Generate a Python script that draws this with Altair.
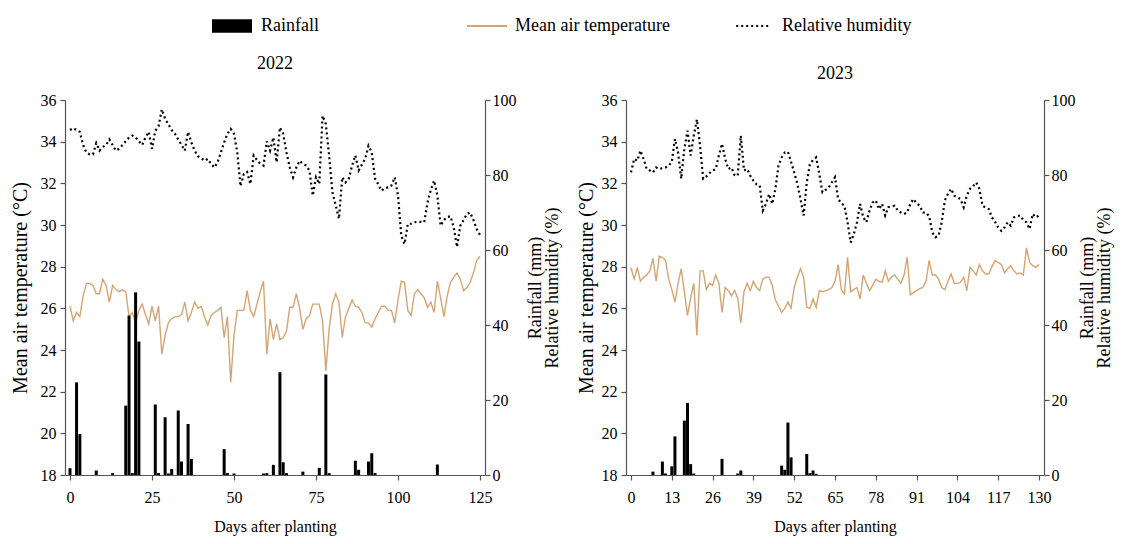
import altair as alt
import pandas as pd

# ---------------- 2022 ----------------
temp_2022 = [26.1, 25.4, 25.8, 25.6, 26.6, 27.2, 27.2, 27.1, 26.7, 26.7,
             27.4, 27.1, 26.3, 27.1, 26.9, 26.8, 26.9, 26.8, 25.6, 25.8,
             25.3, 25.9, 26.2, 25.7, 25.25, 26.1, 25.4, 26.1, 23.8, 24.7,
             25.3, 25.5, 25.6, 25.6, 25.7, 26.3, 25.4, 25.8, 26.3, 26.0,
             26.1, 25.6, 25.2, 25.65, 25.8, 25.9, 26.05, 24.6, 25.6, 22.45,
             24.7, 25.9, 25.9, 25.9, 26.85, 25.9, 25.6, 26.2, 26.8, 27.3,
             23.8, 25.5, 24.5, 25.25, 24.5, 24.6, 24.9, 26.05, 26.05, 26.7,
             26.0, 25.0, 25.5, 25.65, 26.2, 26.2, 26.2, 25.4, 23.0, 25.0,
             26.2, 26.7, 26.3, 24.6, 25.6, 26.0, 26.4, 26.1, 26.05, 25.8,
             25.3, 25.3, 25.1, 25.5, 25.8, 26.1, 26.1, 25.9, 25.9, 25.3,
             26.4, 27.3, 27.25, 25.9, 25.65, 26.7, 26.9, 26.7, 26.5, 26.05,
             26.3, 25.8, 27.3, 26.5, 25.6, 26.6, 27.25, 27.5, 27.7, 27.4,
             26.85, 27.0, 27.25, 27.7, 28.3, 28.5]
hum_2022 = [92, 92.5, 92, 91.5, 88, 86, 85.5, 85.5, 88.5, 86.5,
            87.5, 88, 89.5, 88, 86.5, 87, 88, 89, 90, 90.5,
            90, 89, 88, 90, 91.5, 87, 91.8, 93, 97.5, 95,
            93.5, 92, 91, 89.5, 88, 86.5, 91.5, 88.7, 86.5, 85,
            84.5, 83.8, 84.3, 83, 82, 83.4, 86, 88.7, 91, 92.3,
            91, 86, 77, 80.3, 80.8, 77.6, 85.2, 84, 83, 82.5,
            89, 86.5, 90, 83.4, 92.7, 91, 86, 82, 79.4, 82,
            83.8, 83, 82.5, 81.2, 74.5, 79.4, 77.6, 95.8, 93.6, 85.2,
            75.4, 72, 68.3, 79.4, 78, 79, 82.5, 85.2, 81.2, 82.8,
            84.3, 87.8, 86, 79, 77.5, 75.8, 76.5, 76.7, 77.2, 79.4,
            74.5, 63.8, 61.6, 67, 67, 67.4, 67.5, 67.5, 67.4, 72.7,
            76, 78.5, 74.5, 66.5, 68, 68.8, 69, 66, 60.8, 66.5,
            68, 69.6, 70, 68, 65.6, 64]
rain_day_2022 = [0, 2, 3, 8, 13, 17, 18, 19, 20, 21, 26, 27, 29, 30, 31, 33, 34, 36, 37,
                 47, 48, 50, 59, 60, 62, 64, 65, 66, 71, 76, 78, 79, 87, 88, 91, 92, 93, 112]
rain_mm_2022 = [1.8, 24.7, 10.9, 1.2, 0.5, 18.5, 42.5, 0.5, 48.7, 35.6, 18.8, 0.5, 15.4, 0.4,
                1.6, 17.2, 3.6, 13.6, 4.3, 6.9, 0.5, 0.4, 0.4, 0.5, 2.7, 27.4, 3.4, 0.5,
                0.9, 1.9, 26.8, 0.5, 3.8, 1.4, 3.6, 5.8, 0.5, 2.8]

# ---------------- 2023 ----------------
temp_2023 = [27.95, 27.4, 27.95, 27.3, 27.5, 27.6, 27.8, 28.4, 27.3, 28.5,
             28.45, 28.3, 27.4, 26.9, 26.3, 27.2, 27.9, 26.8, 25.65, 26.5,
             27.2, 24.7, 27.8, 27.8, 26.9, 27.2, 27.1, 27.6, 27.2, 25.8,
             27.0, 26.85, 26.6, 26.85, 26.5, 25.3, 26.8, 27.2, 26.85, 27.3,
             27.0, 26.85, 27.4, 27.5, 27.5, 27.1, 26.4, 26.1, 25.8, 26.0,
             26.3, 26.0, 27.0, 27.5, 27.9, 27.5, 26.05, 26.0, 26.45, 26.05,
             26.85, 26.8, 26.85, 26.9, 27.0, 27.3, 28.1, 26.9, 26.7, 28.45,
             26.8, 26.9, 27.0, 26.45, 27.6, 27.2, 26.85, 27.1, 27.4, 27.3,
             27.25, 27.8, 27.3, 27.5, 27.6, 27.4, 27.2, 27.6, 28.45, 26.65,
             26.75, 26.85, 26.95, 27.0, 27.3, 28.3, 27.6, 27.6, 27.4, 27.0,
             26.9, 27.3, 27.65, 27.2, 27.2, 27.25, 27.5, 26.85, 27.97, 27.8,
             27.6, 28.1, 27.8, 27.65, 27.65, 28.0, 28.3, 28.2, 28.1, 27.7,
             27.9, 28.05, 27.8, 27.65, 27.7, 27.6, 28.9, 28.2, 28.05, 27.97, 28.1]
hum_2023 = [80.7, 84.3, 83.8, 86.5, 84.3, 81.6, 81.2, 80.7, 82, 81.6,
            81.8, 82, 82.5, 83.5, 89.6, 86, 79, 87, 91.8, 85.2,
            90.5, 94.8, 87.8, 79, 79.6, 80.5, 81.2, 81.6, 85.2, 88.3,
            84.3, 81.6, 82, 80, 79.8, 90.5, 81.2, 81.6, 79.8, 78.5,
            77.5, 77.2, 70.5, 72.3, 74.9, 72.3, 76.3, 82.5, 84.7, 86,
            86.2, 83.5, 80.7, 77.6, 73.6, 69.2, 78, 82.9, 84, 84.7,
            80.3, 75.4, 76, 76.7, 78, 79.4, 73.6, 72.5, 71.8, 67.4,
            62, 64.3, 67.4, 72.3, 68.7, 67.4, 70.5, 72.7, 73.2, 70.9,
            72.3, 69.2, 71.4, 71.6, 71.8, 70.5, 70, 69.6, 70, 72.3,
            73.6, 72.5, 71.8, 70, 70, 69, 64.7, 63.4, 63.8, 67.4,
            73.2, 75, 76.3, 74.5, 74, 73.6, 71.4, 74.5, 76.3, 77,
            78, 76.3, 71.8, 71.3, 70.9, 68.7, 67.5, 66, 65.1, 66,
            67.4, 66.5, 68.7, 69, 69.2, 68, 67.4, 65.6, 69.6, 68.7, 69.2]
rain_day_2023 = [7, 10, 11, 13, 14, 17, 18, 19, 20, 29, 34, 35, 48, 49, 50, 51, 56, 57, 58, 59]
rain_mm_2023 = [0.9, 3.6, 0.4, 2.3, 10.3, 14.5, 19.2, 2.9, 0.4, 4.3, 0.4, 1.2, 2.5, 1.4,
                14.0, 4.7, 5.6, 0.5, 1.2, 0.3]

xticks_2022 = [0, 25, 50, 75, 100, 125]
xticks_2023 = [0, 13, 26, 39, 52, 65, 78, 91, 104, 117, 130]
temp_ticks = [18, 20, 22, 24, 26, 28, 30, 32, 34, 36]
right_ticks = [0, 20, 40, 60, 80, 100]
series_names = ["Rainfall", "Mean air temperature", "Relative humidity"]

FONT = "'Liberation Serif', 'Times New Roman', 'DejaVu Serif', 'Noto Serif', serif"
TEMP_COLOR = "#D6A472"
AXIS_COLOR = "#555555"
DOTS = [2, 3]
PLOT_H = 375


def make_panel(year, temp, hum, rday, rmm, xmax, xticks, width, title_offset,
               left_title_x, right_title_x, with_legend):
    tdf = pd.DataFrame({"day": list(range(len(temp))), "temp": temp, "series": series_names[1]})
    hdf = pd.DataFrame({"day": list(range(len(hum))), "hum": hum, "series": series_names[2]})
    rdf = pd.DataFrame({"day": rday, "rain": rmm, "series": series_names[0]})

    x = alt.X("day:Q",
              scale=alt.Scale(domain=[0, xmax], nice=False, zero=False),
              axis=alt.Axis(values=xticks, title="Days after planting", labelFlush=False,
                            labelOverlap=False, tickSize=5, labelPadding=9,
                            titleX=width / 2, titleY=43, titleBaseline="top",
                            titleFontSize=16, labelFontSize=16))

    temp_y = alt.Y("temp:Q", scale=alt.Scale(domain=[18, 36], nice=False, zero=False),
                   axis=alt.Axis(orient="left", values=temp_ticks, title="Mean air temperature (°C)",
                                 tickSize=5, labelPadding=4, titleX=left_title_x,
                                 titleY=PLOT_H / 2, titleFontSize=20))
    rain_y = alt.Y("rain:Q", scale=alt.Scale(domain=[0, 100], nice=False),
                   axis=alt.Axis(orient="right", values=right_ticks,
                                 title=["Rainfall (mm)", "Relative humidity (%)"],
                                 titleAngle=270, titleBaseline="top", titleLineHeight=17,
                                 titleX=right_title_x, titleY=PLOT_H / 2, titleFontSize=18,
                                 tickSize=5, labelPadding=2))
    hum_y = alt.Y("hum:Q", scale=alt.Scale(domain=[0, 100], nice=False), axis=None)

    if with_legend:
        temp_enc = dict(stroke=alt.Stroke("series:N",
                        scale=alt.Scale(domain=[series_names[1]], range=[TEMP_COLOR]),
                        legend=alt.Legend(title=None, orient="none", legendX=413, legendY=-83,
                                          symbolType="M-2.5,0H2.5", symbolSize=256,
                                          symbolStrokeWidth=2, labelOffset=19)))
        rain_enc = dict(color=alt.Color("series:N",
                        scale=alt.Scale(domain=[series_names[0]], range=["black"]),
                        legend=alt.Legend(title=None, orient="none", legendX=158, legendY=-83,
                                          symbolType="M-2.5,-0.85H2.5V0.85H-2.5Z", symbolSize=256,
                                          symbolStrokeWidth=0, labelOffset=20)))
        hum_enc = dict(strokeDash=alt.StrokeDash("series:N",
                       scale=alt.Scale(domain=[series_names[2]], range=[DOTS]),
                       legend=alt.Legend(title=None, orient="none", legendX=679, legendY=-83,
                                         symbolType="M-2.1,0H2.1", symbolSize=256,
                                         symbolStrokeWidth=2, symbolStrokeColor="black",
                                         labelOffset=20)))
        temp_mark = alt.Chart(tdf).mark_line(strokeWidth=1.4)
        rain_mark = alt.Chart(rdf).mark_bar(size=3)
        hum_mark = alt.Chart(hdf).mark_line(strokeWidth=2.2, color="black", strokeCap="butt")
    else:
        temp_enc, rain_enc, hum_enc = {}, {}, {}
        temp_mark = alt.Chart(tdf).mark_line(strokeWidth=1.4, color=TEMP_COLOR)
        rain_mark = alt.Chart(rdf).mark_bar(size=3, color="black")
        hum_mark = alt.Chart(hdf).mark_line(strokeWidth=2.2, color="black", strokeCap="butt",
                                            strokeDash=DOTS)

    temp_layer = temp_mark.encode(x=x, y=temp_y, **temp_enc)
    rain_layer = rain_mark.encode(x=x, y=rain_y, **rain_enc)
    hum_layer = hum_mark.encode(x=x, y=hum_y, **hum_enc)

    return (alt.layer(temp_layer, rain_layer, hum_layer)
            .resolve_scale(y="independent")
            .properties(width=width, height=PLOT_H,
                        title=alt.TitleParams(year, font=FONT, fontSize=18, fontWeight="normal",
                                              anchor="middle", frame="group", offset=title_offset,
                                              color="black")))


left = make_panel("2022", temp_2022, hum_2022, rain_day_2022, rain_mm_2022,
                  125, xticks_2022, 420, 19, -35, 41, True)
right = make_panel("2023", temp_2023, hum_2023, rain_day_2023, rain_mm_2023,
                   130, xticks_2023, 418, 9, -30, 34, False)

chart = (alt.hconcat(left, right, spacing=141)
         .properties(bounds="flush", padding={"left": 2, "top": 9, "right": 3, "bottom": 2})
         .configure(font=FONT)
         .configure_view(stroke=None)
         .configure_axis(grid=False, domainColor=AXIS_COLOR, tickColor=AXIS_COLOR,
                         labelColor="black", titleColor="black", labelFont=FONT, titleFont=FONT,
                         labelFontSize=16, titleFontSize=19, titleFontWeight="normal",
                         domainWidth=1.2, tickWidth=1.2)
         .configure_legend(labelFont=FONT, labelFontSize=18, labelColor="black", padding=0))

chart.save("out.html", embed_options={"renderer": "svg", "actions": False})
